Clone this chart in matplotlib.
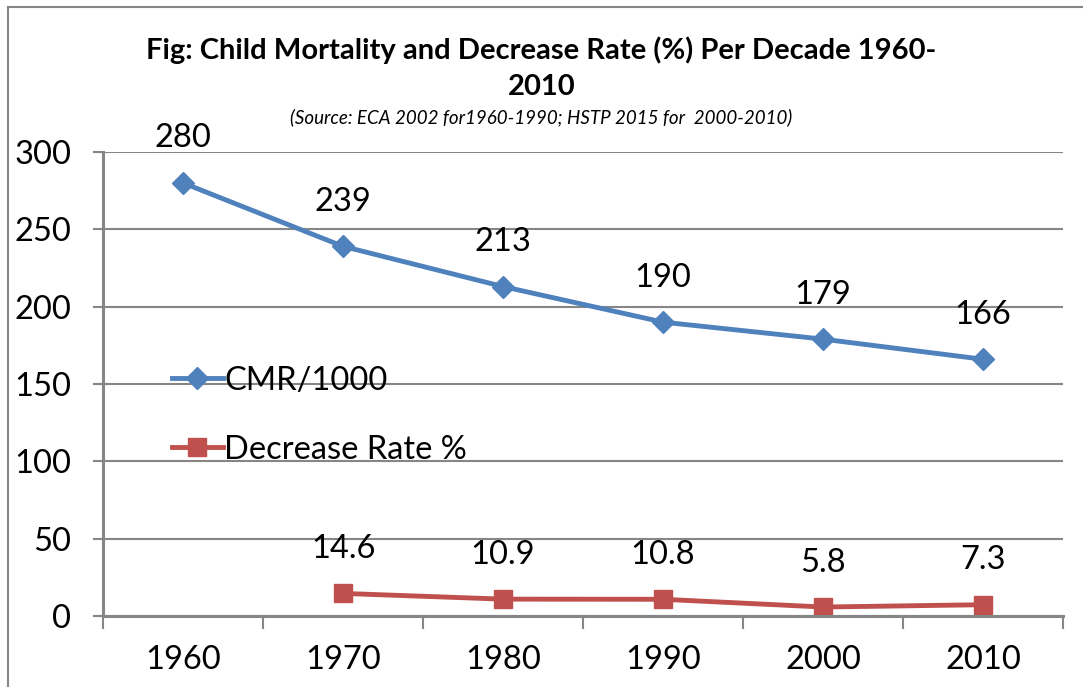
import matplotlib as mpl
from matplotlib import pyplot as plt
from matplotlib.lines import Line2D

years = ["1960", "1970", "1980", "1990", "2000", "2010"]
cmr = [280, 239, 213, 190, 179, 166]
decrease_years = ["1970", "1980", "1990", "2000", "2010"]
decrease_rate = [14.6, 10.9, 10.8, 5.8, 7.3]
decrease_labels = ["14.6", "10.9", "10.8", "5.8", "7.3"]

blue = '#4F81BD'
red = '#C0504D'
grey = '#868686'

plt.rcParams['font.family'] = ['Lato', 'DejaVu Sans']

fig = plt.figure(figsize=(10.83, 6.87), dpi=100)
ax = fig.add_axes([103/1083, 71/687, 960/1083, 464/687])

x_cmr = [years.index(y) for y in years]
x_dec = [years.index(y) for y in decrease_years]

ax.plot(x_cmr, cmr, color=blue, linewidth=3.5, marker='D', markersize=11,
        label='CMR/1000', clip_on=False)
ax.plot(x_dec, decrease_rate, color=red, linewidth=3.5, marker='s', markersize=13,
        label='Decrease Rate %', clip_on=False)

# data labels above the points
for xi, v in zip(x_cmr, cmr):
    ax.annotate(str(v), (xi, v), xytext=(0, 32), textcoords='offset points',
                ha='center', va='center', fontsize=23.5)
for xi, v, t in zip(x_dec, decrease_rate, decrease_labels):
    ax.annotate(t, (xi, v), xytext=(0, 32), textcoords='offset points',
                ha='center', va='center', fontsize=23.5)

ax.set_xlim(-0.5, len(years) - 0.5)
ax.set_ylim(0, 300)
ax.set_yticks(range(0, 301, 50))
ax.yaxis.grid(True, color=grey, linewidth=1.5)
ax.set_axisbelow(True)

ax.set_xticks([i - 0.5 for i in range(len(years) + 1)])
ax.set_xticklabels([])
ax.set_xticks(range(len(years)), minor=True)
ax.set_xticklabels(years, minor=True, fontsize=23.5)
ax.tick_params(axis='x', which='major', length=9, width=1.5, color=grey, direction='out')
ax.tick_params(axis='x', which='minor', length=0, pad=21)
ax.tick_params(axis='y', length=7, width=1.5, color=grey, labelsize=23.5, pad=16)

for s in ['top', 'right']:
    ax.spines[s].set_visible(False)
for s in ['left', 'bottom']:
    ax.spines[s].set_color(grey)
    ax.spines[s].set_linewidth(2.2)

handles = [Line2D([], [], color=blue, linewidth=3.5, marker='D', markersize=11),
           Line2D([], [], color=red, linewidth=3.5, marker='s', markersize=13)]
ax.legend(handles, ['CMR/1000', 'Decrease Rate %'], loc='upper left',
          bbox_to_anchor=(0.055, 0.575), frameon=False, fontsize=23.5,
          handlelength=1.55, handletextpad=0.05, labelspacing=1.2, borderpad=0)

fig.text(0.5, 1 - 50/687, 'Fig: Child Mortality and Decrease Rate (%) Per Decade 1960-',
         ha='center', va='center', fontsize=21, fontweight='bold')
fig.text(0.5, 1 - 87/687, '2010', ha='center', va='center', fontsize=21, fontweight='bold')
fig.text(0.5, 1 - 117/687, '(Source: ECA 2002 for1960-1990; HSTP 2015 for  2000-2010)',
         ha='center', va='center', fontsize=13.5, style='italic')

# chart frame (left and top edges visible)
fig.add_artist(Line2D([8/1083, 8/1083], [0, 1 - 7/687], color=grey, linewidth=1.5))
fig.add_artist(Line2D([8/1083, 1], [1 - 7/687, 1 - 7/687], color=grey, linewidth=1.5))

fig.savefig('out.png', dpi=100)
